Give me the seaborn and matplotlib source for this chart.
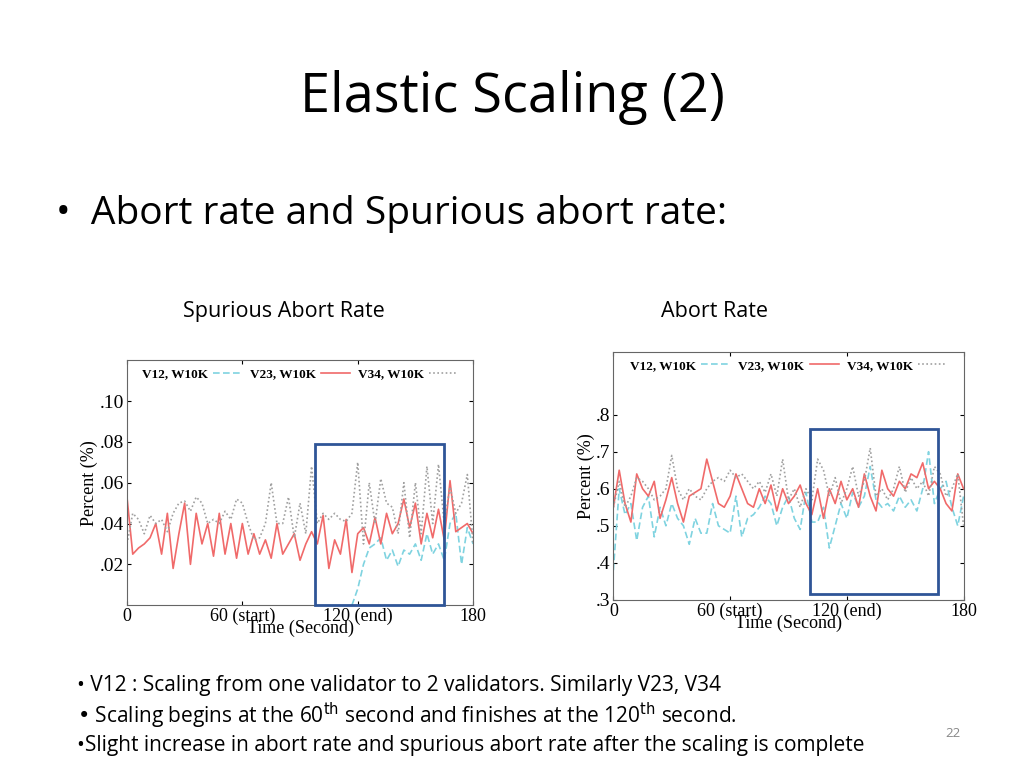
import numpy as np
import pandas as pd
import matplotlib
matplotlib.use("Agg")
import matplotlib.pyplot as plt
from matplotlib.patches import Rectangle
import seaborn as sns

time_s = list(range(0, 181, 3))
series_names = ["V12, W10K", "V23, W10K", "V34, W10K"]

# spurious abort rate (left)
spur_v12 = [None] * 39 + [0.0, 0.008, 0.020, 0.028, 0.030, 0.033, 0.022, 0.027, 0.019, 0.027, 0.025,
                          0.030, 0.022, 0.035, 0.025, 0.030, 0.022, 0.040, 0.045, 0.020, 0.038, 0.030]
spur_v23 = [0.053, 0.025, 0.028, 0.030, 0.033, 0.040, 0.025, 0.045, 0.018, 0.035, 0.050, 0.020, 0.045,
            0.030, 0.040, 0.024, 0.045, 0.025, 0.040, 0.023, 0.040, 0.025, 0.035, 0.025, 0.032, 0.023,
            0.040, 0.025, 0.030, 0.035, 0.022, 0.030, 0.036, 0.030, 0.044, 0.018, 0.032, 0.025, 0.042,
            0.016, 0.035, 0.038, 0.030, 0.043, 0.030, 0.045, 0.035, 0.040, 0.052, 0.038, 0.050, 0.030,
            0.045, 0.033, 0.047, 0.032, 0.061, 0.036, 0.038, 0.040, 0.035]
spur_v34 = [0.030, 0.045, 0.042, 0.035, 0.044, 0.040, 0.042, 0.036, 0.045, 0.050, 0.051, 0.046, 0.053,
            0.050, 0.040, 0.042, 0.040, 0.046, 0.042, 0.052, 0.050, 0.040, 0.032, 0.033, 0.040, 0.060,
            0.040, 0.040, 0.053, 0.033, 0.050, 0.035, 0.068, 0.040, 0.045, 0.042, 0.045, 0.042, 0.041,
            0.045, 0.070, 0.030, 0.060, 0.040, 0.062, 0.050, 0.048, 0.035, 0.060, 0.033, 0.060, 0.035,
            0.068, 0.040, 0.069, 0.040, 0.058, 0.045, 0.050, 0.064, 0.030]

# abort rate (right)
abort_v12 = [0.38, 0.60, 0.53, 0.56, 0.46, 0.55, 0.58, 0.47, 0.55, 0.50, 0.56, 0.52, 0.50, 0.45, 0.52,
             0.48, 0.48, 0.56, 0.50, 0.49, 0.48, 0.58, 0.47, 0.52, 0.53, 0.55, 0.58, 0.56, 0.50, 0.55,
             0.58, 0.52, 0.49, 0.59, 0.51, 0.51, 0.55, 0.44, 0.50, 0.56, 0.52, 0.59, 0.55, 0.58, 0.66,
             0.57, 0.55, 0.56, 0.54, 0.58, 0.55, 0.57, 0.54, 0.60, 0.70, 0.56, 0.60, 0.62, 0.55, 0.50, 0.58]
abort_v23 = [0.55, 0.65, 0.56, 0.51, 0.64, 0.60, 0.58, 0.62, 0.52, 0.57, 0.63, 0.56, 0.51, 0.58, 0.59,
             0.60, 0.68, 0.62, 0.56, 0.55, 0.58, 0.64, 0.60, 0.56, 0.55, 0.60, 0.56, 0.61, 0.54, 0.60,
             0.56, 0.58, 0.61, 0.56, 0.53, 0.60, 0.52, 0.60, 0.56, 0.62, 0.57, 0.60, 0.55, 0.64, 0.58,
             0.54, 0.65, 0.60, 0.58, 0.62, 0.60, 0.64, 0.63, 0.67, 0.60, 0.62, 0.60, 0.56, 0.54, 0.64, 0.60]
abort_v34 = [0.55, 0.62, 0.55, 0.58, 0.63, 0.62, 0.60, 0.57, 0.58, 0.60, 0.69, 0.60, 0.57, 0.60, 0.58,
             0.57, 0.60, 0.62, 0.63, 0.62, 0.65, 0.63, 0.64, 0.62, 0.60, 0.62, 0.59, 0.64, 0.58, 0.68,
             0.57, 0.60, 0.55, 0.60, 0.57, 0.68, 0.65, 0.58, 0.63, 0.56, 0.60, 0.66, 0.58, 0.62, 0.71,
             0.58, 0.60, 0.57, 0.60, 0.66, 0.59, 0.63, 0.60, 0.62, 0.58, 0.66, 0.64, 0.58, 0.60, 0.64, 0.50]

x_ticks = [0, 60, 120, 180]
x_ticklabels = ["0", "60 (start)", "120 (end)", "180"]
spur_yticks = [0.02, 0.04, 0.06, 0.08, 0.10]
spur_yticklabels = [".02", ".04", ".06", ".08", ".10"]
abort_yticks = [0.3, 0.4, 0.5, 0.6, 0.7, 0.8]
abort_yticklabels = [".3", ".4", ".5", ".6", ".7", ".8"]
spur_box = (98, 0.0, 67, 0.079)     # x, y, width, height
abort_box = (101, 0.317, 66, 0.444)

line_colors = ["#7fd3e0", "#f06a6a", "#a0a0a0"]
line_styles = [(0, (4, 2)), "-", (0, (1, 1.5))]
serif = "Liberation Serif"
sans = "Open Sans"

fig = plt.figure(figsize=(10.24, 7.68), dpi=100)
fig.text(0.5, 0.873, "Elastic Scaling (2)", ha="center", va="center", fontsize=39, family=sans)
fig.text(0.055, 0.722, "\u2022  Abort rate and Spurious abort rate:", ha="left", va="center",
         fontsize=28, family=sans)
fig.text(0.277, 0.595, "Spurious Abort Rate", ha="center", va="center", fontsize=15.5, family=sans)
fig.text(0.698, 0.595, "Abort Rate", ha="center", va="center", fontsize=15.5, family=sans)


def draw_panel(ax, series, ylim, yticks, yticklabels, box):
    for name, vals, c, ls in zip(series_names, series, line_colors, line_styles):
        df = pd.DataFrame({"t": time_s, "v": [np.nan if v is None else v for v in vals]})
        sns.lineplot(data=df, x="t", y="v", ax=ax, color=c, linestyle=ls, linewidth=1.2, label=name)
    ax.set_xlim(0, 180)
    ax.set_ylim(*ylim)
    ax.set_xticks(x_ticks)
    ax.set_xticklabels(x_ticklabels, family=serif, fontsize=13)
    ax.set_yticks(yticks)
    ax.set_yticklabels(yticklabels, family=serif, fontsize=14)
    ax.tick_params(direction="in", length=3, pad=2, top=True, right=True)
    ax.set_xlabel("Time (Second)", family=serif, fontsize=13, labelpad=-4)
    ax.set_ylabel("Percent (%)", family=serif, fontsize=13, labelpad=1)
    for s in ax.spines.values():
        s.set_color("#666666")
        s.set_linewidth(0.8)
    ax.legend(loc="upper center", ncol=3, frameon=False, markerfirst=False, handlelength=2.2,
              columnspacing=0.6, handletextpad=0.4, borderaxespad=0.2,
              prop={"family": serif, "size": 9.5, "weight": "bold"})
    bx, by, bw, bh = box
    ax.add_patch(Rectangle((bx, by), bw, bh, fill=False, edgecolor="#2f5597", linewidth=2, zorder=5,
                           clip_on=False))


ax1 = fig.add_axes([0.124, 0.212, 0.338, 0.319])
draw_panel(ax1, [spur_v12, spur_v23, spur_v34], (0, 0.12), spur_yticks, spur_yticklabels, spur_box)
ax2 = fig.add_axes([0.599, 0.219, 0.342, 0.323])
draw_panel(ax2, [abort_v12, abort_v23, abort_v34], (0.3, 0.97), abort_yticks, abort_yticklabels, abort_box)

notes = ["\u2022 V12 : Scaling from one validator to 2 validators. Similarly V23, V34",
         "\u2022 Scaling begins at the 60$^{\\mathrm{th}}$ second and finishes at the 120$^{\\mathrm{th}}$ second.",
         "\u2022Slight increase in abort rate and spurious abort rate after the scaling is complete"]
for i, line in enumerate(notes):
    fig.text(0.075, 0.107 - i * 0.039, line, ha="left", va="center", fontsize=15, family=sans)
fig.text(0.931, 0.045, "22", ha="center", va="center", fontsize=9.5, color="#888888", family=sans)

fig.savefig("out.png", dpi=100)
